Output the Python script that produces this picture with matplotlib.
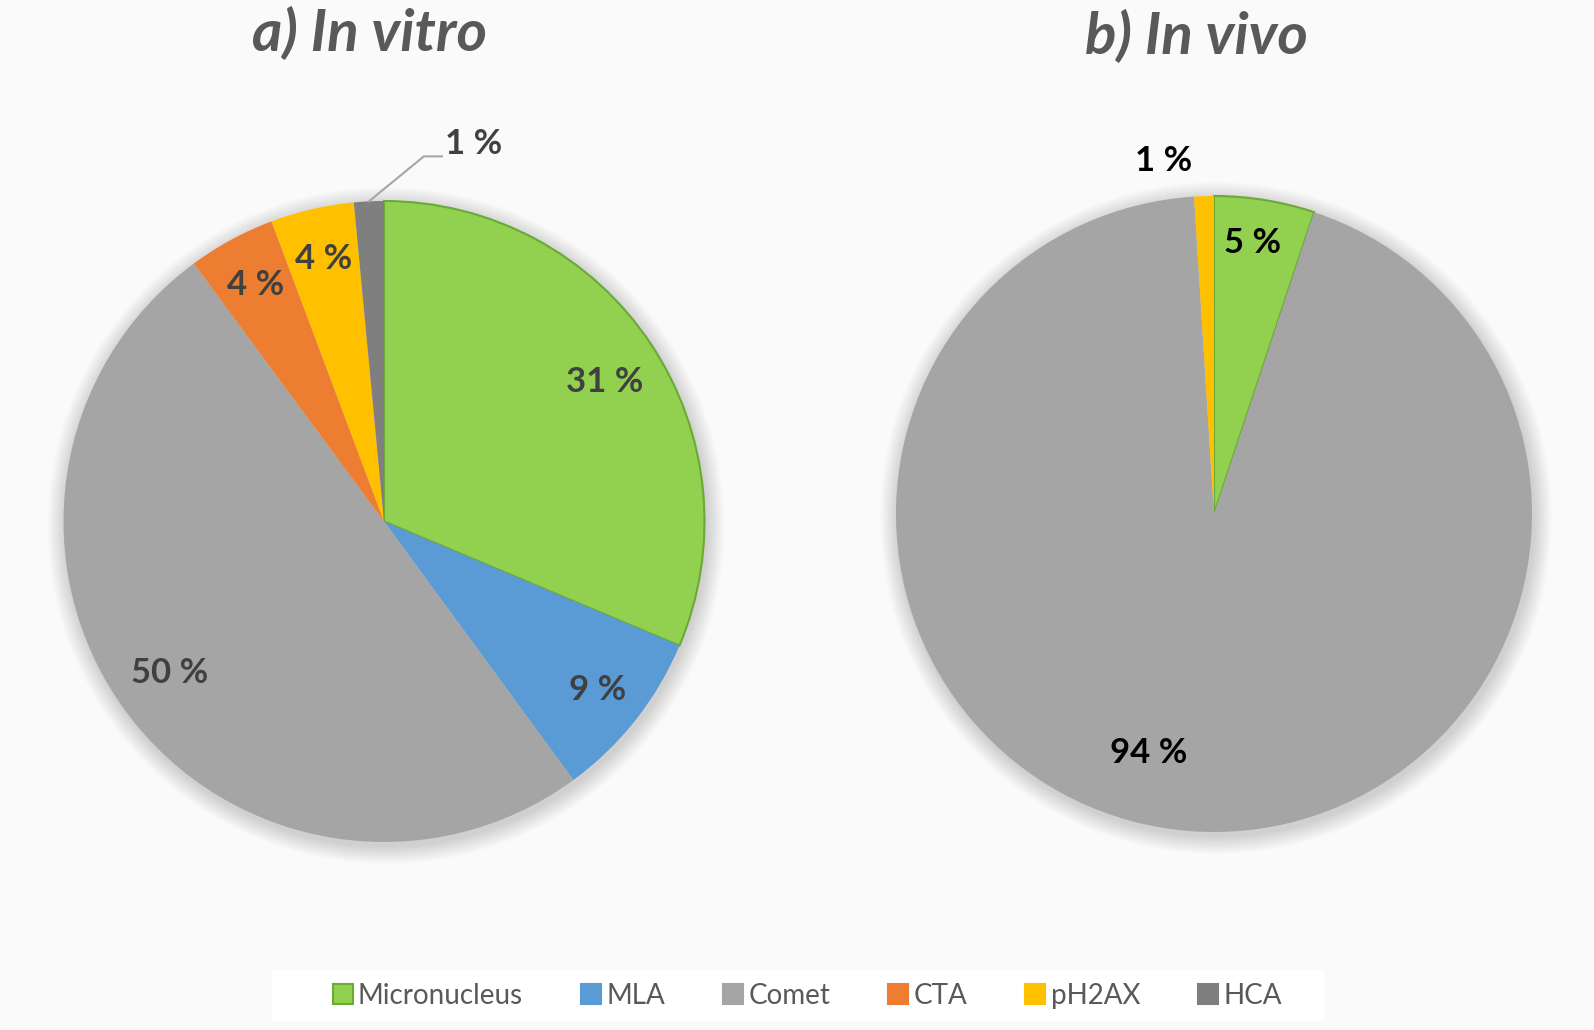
import matplotlib
matplotlib.use("Agg")
import matplotlib.pyplot as plt
from matplotlib.patches import Rectangle, Circle
from matplotlib.lines import Line2D
import numpy as np

plt.rcParams['font.family'] = ['Lato', 'DejaVu Sans']

categories = ["Micronucleus", "MLA", "Comet", "CTA", "pH2AX", "HCA"]
colors = ["#92D050", "#5B9BD5", "#A5A5A5", "#ED7D31", "#FFC000", "#7F7F7F"]

invitro_values = [31.3, 8.6, 49.9, 4.4, 4.2, 1.5]
invitro_labels = ["31 %", "9 %", "50 %", "4 %", "4 %", "1 %"]

invivo_cats = ["Micronucleus", "Comet", "pH2AX"]
invivo_values = [5.1, 93.9, 1.0]
invivo_labels = ["5 %", "94 %", "1 %"]

titles = ["a) In vitro", "b) In vivo"]

W, H = 1594, 1030
fig = plt.figure(figsize=(W / 100, H / 100), dpi=100)
fig.patch.set_facecolor("#f1f1f1")

plt.rcParams['hatch.linewidth'] = 2.5
bg = Rectangle((0, 0), 1, 1, transform=fig.transFigure, facecolor="#ececec",
               edgecolor="#fafafa", linewidth=0, hatch="\\" * 10, zorder=-10)
fig.add_artist(bg)

ax = fig.add_axes([0, 0, 1, 1])
ax.set_facecolor("none")


def draw_pie(cx, cy, r, vals, cats, labels, label_pos, label_color):
    cy = H - cy
    # soft shadow
    for i in range(14):
        ax.add_patch(Circle((cx + 2, cy - 4), r + 1 + i * 1.3, facecolor="black",
                            alpha=0.012, edgecolor="none", zorder=1))
    cols = [colors[categories.index(c)] for c in cats]
    wedges, _ = ax.pie(vals, colors=cols, startangle=90, counterclock=False,
                       center=(cx, cy), radius=r,
                       wedgeprops=dict(linewidth=0, zorder=3))
    for w, c in zip(wedges, cats):
        w.set_zorder(3)
        if c == "Micronucleus":
            w.set_edgecolor("#6aaa35")
            w.set_linewidth(1.5)
    for w, lab, lp in zip(wedges, labels, label_pos):
        if lp is None:
            continue
        fr, da = lp
        mid = np.deg2rad((w.theta1 + w.theta2) / 2 + da)
        x = cx + fr * r * np.cos(mid)
        y = cy + fr * r * np.sin(mid)
        ax.text(x, y, lab, ha="center", va="center", fontsize=25, fontweight="bold",
                color=label_color, zorder=5)
    return wedges


w1 = draw_pie(384, 521.5, 320.5, invitro_values, categories, invitro_labels,
              [(0.815, -1.2), (0.85, 0), (0.82, -1), (0.84, 0), (0.84, 0), None], "#404040")
# leader line + label for HCA
hw = w1[5]
mid = np.deg2rad((hw.theta1 + hw.theta2) / 2)
x0, y0 = 384 + 320.5 * np.cos(mid), (H - 521.5) + 320.5 * np.sin(mid)
ax.plot([x0, x0 + 55, x0 + 73], [y0, y0 + 45, y0 + 45], color="#a6a6a6", lw=1.5, zorder=4)
ax.text(x0 + 73 + 32, y0 + 45 + 12, invitro_labels[5], ha="center", va="center",
        fontsize=25, fontweight="bold", color="#404040", zorder=5)

draw_pie(1214, 514, 318, invivo_values, invivo_cats, invivo_labels,
         [(0.86, 1), (0.78, -8), (1.12, 6.4)], "black")

ax.set_xlim(0, W)
ax.set_ylim(0, H)
ax.set_aspect("auto")
ax.axis("off")

fig.text(369 / W, 1 - 34 / H, titles[0], ha="center", va="center", fontsize=42,
         fontweight="bold", fontstyle="italic", color="#595959")
fig.text(1196 / W, 1 - 37 / H, titles[1], ha="center", va="center", fontsize=42,
         fontweight="bold", fontstyle="italic", color="#595959")

# legend
fig.add_artist(Rectangle((272 / W, 1 - 1021 / H), (1324 - 272) / W, 51 / H,
                         transform=fig.transFigure, facecolor="white",
                         edgecolor="none", zorder=-5))
handles = []
for c, col in zip(categories, colors):
    ec = "#6aaa35" if c == "Micronucleus" else col
    handles.append(Line2D([], [], marker="s", linestyle="none", markersize=14,
                          markerfacecolor=col, markeredgecolor=ec, markeredgewidth=1.5))
fig.legend(handles, categories, loc="center", bbox_to_anchor=(806 / W, 1 - 996 / H),
           ncol=6, frameon=False, fontsize=20, handletextpad=0.1, columnspacing=2.0,
           handlelength=0.9, labelcolor="#595959")

fig.savefig("out.png", dpi=100, facecolor=fig.get_facecolor())
